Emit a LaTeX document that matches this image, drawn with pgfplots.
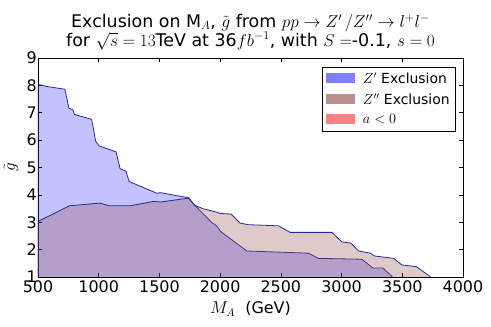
\documentclass[border=0pt]{standalone}
\usepackage{fontspec}
\setmainfont{DejaVu Sans}
\usepackage{pgfplots}
\pgfplotsset{compat=1.18}
\definecolor{edgeblue}{RGB}{40,40,150}
\definecolor{zppfill}{RGB}{150,80,80}
\definecolor{legblue}{RGB}{128,128,255}
\definecolor{legbrown}{RGB}{188,143,143}
\definecolor{legred}{RGB}{255,128,128}

\begin{document}
\begin{tikzpicture}
\useasboundingbox (-38bp,-50bp) rectangle (453bp,277bp);
\begin{axis}[
    at={(0,0)}, anchor=south west,
    scale only axis,
    width=425bp, height=219bp,
    xmin=500, xmax=4000,
    ymin=1, ymax=9,
    xtick={500,1000,...,4000},
    ytick={1,2,...,9},
    tick align=inside,
    major tick length=4bp,
    tick style={black, line width=0.6bp},
    axis line style={line width=0.8bp},
    /pgf/number format/assume math mode=true,
    /pgf/number format/1000 sep={},
    scaled x ticks=false,
    ticklabel style={font=\fontsize{16}{19}\selectfont},
    xticklabel style={inner sep=1bp, yshift=-2bp},
    yticklabel style={inner sep=1bp},
    title={Exclusion on M$_A$, $\tilde{g}$ from $pp\rightarrow Z'\,/Z''\rightarrow l^+l^-$\\[-1bp]for $\sqrt{s}=13$TeV at 36$fb^{-1}$, with $S=$-0.1, $s=0$},
    title style={font=\fontsize{17.5}{20}\selectfont, align=center, yshift=-2bp},
    xlabel={$M_A$\ \ (GeV)},
    ylabel={$\tilde{g}$},
    label style={font=\fontsize{16}{19}\selectfont},
    xlabel style={yshift=-5bp},
    ylabel style={at={(axis description cs:-0.0635,0.5)}, anchor=center},
    legend style={at={(1,1)}, anchor=north east, xshift=-7bp, yshift=-8.5bp,
        draw=black, line width=0.6bp, font=\fontsize{14}{16}\selectfont,
        row sep=4.5bp, inner xsep=4bp, inner ysep=4bp},
    legend cell align=left,
    legend image code/.code={\fill[#1] (0bp,-4bp) rectangle (29bp,6bp); \path (35bp,0bp);},
]
\addlegendimage{fill=legblue, draw=none}
\addlegendentry{$Z'$ Exclusion}
\addlegendimage{fill=legbrown, draw=none}
\addlegendentry{$Z''$ Exclusion}
\addlegendimage{fill=legred, draw=none}
\addlegendentry{$a<0$}

% Z' exclusion region
\addplot[draw=edgeblue, line width=0.8bp, fill=blue, fill opacity=0.24, forget plot] coordinates {
    (500,1) (500,8.04) (572,7.96) (722,7.86) (755,7.16) (786,7.12) (800,6.94)
    (942,6.76) (975,5.96) (1003,5.79) (1143,5.57) (1176,4.96) (1225,4.86)
    (1250,4.49) (1478,4.06) (1510,4.08) (1643,3.97) (1739,3.90) (1780,3.67)
    (1931,2.99) (1972,2.87) (2005,2.66) (2220,1.95) (2727,1.87) (2810,1.68)
    (3167,1.65) (3258,1.33) (3340,1.33) (3420,1)
};
% Z'' exclusion region
\addplot[draw=edgeblue, line width=0.8bp, fill=zppfill, fill opacity=0.3, forget plot] coordinates {
    (500,1) (500,3.03) (758,3.60) (983,3.69) (1010,3.70) (1085,3.60) (1258,3.60)
    (1450,3.76) (1510,3.74) (1739,3.88) (1794,3.61) (1862,3.49) (1972,3.37)
    (2000,3.32) (2090,3.30) (2164,2.97) (2233,2.91) (2480,2.87) (2577,2.63)
    (2920,2.63) (3003,2.28) (3077,2.24) (3140,1.95) (3237,1.87) (3270,1.77)
    (3428,1.68) (3497,1.44) (3615,1.38) (3735,1)
};
\end{axis}
\end{tikzpicture}
\end{document}
